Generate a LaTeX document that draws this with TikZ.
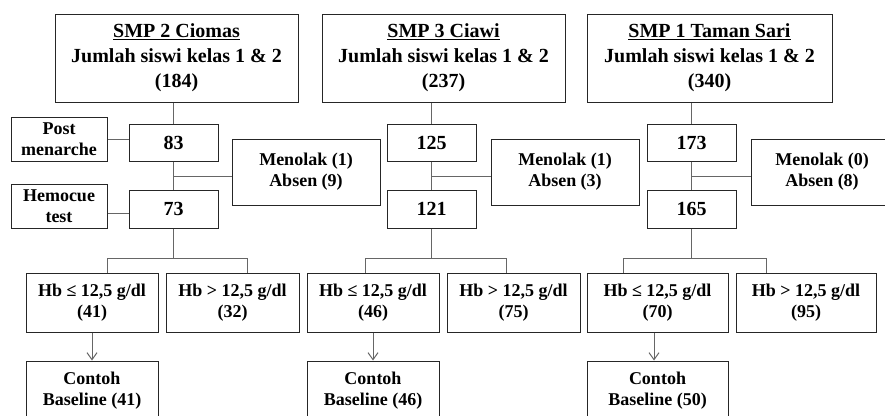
\documentclass[tikz,border=0pt]{standalone}
\usepackage{fontspec}
\setmainfont{Liberation Serif}
\usetikzlibrary{arrows.meta}
\begin{document}
\begin{tikzpicture}[x=1pt,y=-1pt,
  box/.style={draw=black!85,line width=1pt,inner sep=0pt,align=center,
    font=\bfseries\fontsize{18}{21}\selectfont},
  topbox/.style={box,minimum height=88pt,font=\bfseries\fontsize{20}{25}\selectfont},
  numbox/.style={box,minimum width=89pt,font=\bfseries\fontsize{20}{24}\selectfont},
  conn/.style={draw=black!60,line width=1pt},
  arr/.style={conn,-{Straight Barb[length=7pt,width=10pt]}}]
\clip (0,0) rectangle (885,415);
\useasboundingbox (0,0) rectangle (885,415);

% ---------- column 1 ----------
\node[topbox,minimum width=243pt] (t1) at (176.5,58) {\underline{SMP 2 Ciomas}\\Jumlah siswi kelas 1 \& 2\\(184)};
\node[box,minimum width=96pt,minimum height=44pt] (pm) at (59,139) {Post\\menarche};
\node[numbox,minimum height=37pt] (n83) at (173.5,142.5) {83};
\node[box,minimum width=148pt,minimum height=66pt] (m1) at (306,172) {Menolak (1)\\Absen (9)};
\node[box,minimum width=96pt,minimum height=44pt] (hc) at (59,206) {Hemocue\\test};
\node[numbox,minimum height=38pt] (n73) at (173.5,209) {73};
\node[box,minimum width=132pt,minimum height=59pt] (hl1) at (92,302.5) {Hb ≤ 12,5 g/dl\\(41)};
\node[box,minimum width=133pt,minimum height=59pt] (hg1) at (232.5,302.5) {Hb > 12,5 g/dl\\(32)};
\node[box,minimum width=132pt,minimum height=60pt] (c1) at (92,391) {Contoh\\Baseline (41)};

\draw[conn] (n83.north) -- (n83.north |- t1.south);
\draw[conn] (n83.south) -- (n73.north);
\draw[conn] (pm.east) -- (pm.east -| n83.west);
\draw[conn] ([yshift=-7pt]hc.east) -- ([yshift=-7pt]hc.east -| n73.west);
\draw[conn] ([yshift=-4pt]m1.west) -- ([yshift=-4pt]m1.west -| n83.south);
\coordinate (b1) at (173.5,258);
\coordinate (b1a) at (107,258);
\coordinate (b1b) at (247,258);
\draw[conn] (n73.south) -- (b1);
\draw[conn] (b1a |- hl1.north) -- (b1a) -- (b1b) -- (b1b |- hg1.north);
\draw[arr] (hl1.south) -- (c1.north);

% ---------- column 2 ----------
\node[topbox,minimum width=243pt] (t2) at (443.5,58) {\underline{SMP 3 Ciawi}\\Jumlah siswi kelas 1 \& 2\\(237)};
\node[numbox,minimum height=37pt] (n125) at (431.5,142.5) {125};
\node[box,minimum width=148pt,minimum height=66pt] (m2) at (565,172) {Menolak (1)\\Absen (3)};
\node[numbox,minimum height=38pt] (n121) at (431.5,209) {121};
\node[box,minimum width=132pt,minimum height=59pt] (hl2) at (373,302.5) {Hb ≤ 12,5 g/dl\\(46)};
\node[box,minimum width=133pt,minimum height=59pt] (hg2) at (513.5,302.5) {Hb > 12,5 g/dl\\(75)};
\node[box,minimum width=132pt,minimum height=60pt] (c2) at (373,391) {Contoh\\Baseline (46)};

\draw[conn] (n125.north) -- (n125.north |- t2.south);
\draw[conn] (n125.south) -- (n121.north);
\draw[conn] ([yshift=-4pt]m2.west) -- ([yshift=-4pt]m2.west -| n125.south);
\coordinate (b2) at (431.5,258);
\coordinate (b2a) at (365,258);
\coordinate (b2b) at (506,258);
\draw[conn] (n121.south) -- (b2);
\draw[conn] (b2a |- hl2.north) -- (b2a) -- (b2b) -- (b2b |- hg2.north);
\draw[arr] (hl2.south) -- (c2.north);

% ---------- column 3 ----------
\node[topbox,minimum width=245pt] (t3) at (709.5,58) {\underline{SMP 1 Taman Sari}\\Jumlah siswi kelas 1 \& 2\\(340)};
\node[numbox,minimum height=37pt] (n173) at (691.5,142.5) {173};
\node[box,minimum width=142pt,minimum height=66pt] (m3) at (822,172) {Menolak (0)\\Absen (8)};
\node[numbox,minimum height=38pt] (n165) at (691.5,209) {165};
\node[box,minimum width=141pt,minimum height=59pt] (hl3) at (657.5,302.5) {Hb ≤ 12,5 g/dl\\(70)};
\node[box,minimum width=140pt,minimum height=59pt] (hg3) at (806,302.5) {Hb > 12,5 g/dl\\(95)};
\node[box,minimum width=141pt,minimum height=60pt] (c3) at (657.5,391) {Contoh\\Baseline (50)};

\draw[conn] (n173.north) -- (n173.north |- t3.south);
\draw[conn] (n173.south) -- (n165.north);
\draw[conn] ([yshift=-4pt]m3.west) -- ([yshift=-4pt]m3.west -| n173.south);
\coordinate (b3) at (691.5,258);
\coordinate (b3a) at (623,258);
\coordinate (b3b) at (766,258);
\draw[conn] (n165.south) -- (b3);
\draw[conn] (b3a |- hl3.north) -- (b3a) -- (b3b) -- (b3b |- hg3.north);
\draw[arr] ([xshift=-3.5pt]hl3.south) -- ([xshift=-3.5pt]c3.north);
\end{tikzpicture}
\end{document}
